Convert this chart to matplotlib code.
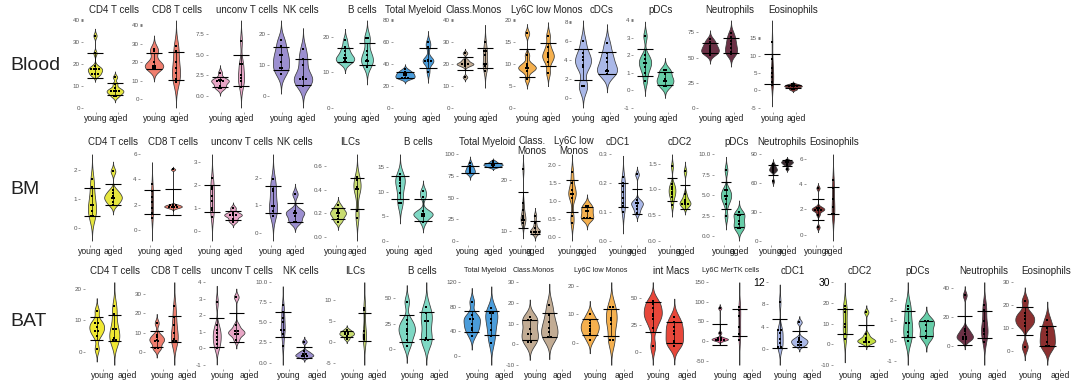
import numpy as np
import matplotlib
matplotlib.use("Agg")
import matplotlib.pyplot as plt

plt.rcParams['font.family'] = ['Liberation Sans', 'DejaVu Sans']

groups = ["young", "aged"]

# ---- Blood ----
blood_titles = ["CD4 T cells", "CD8 T cells", "unconv T cells", "NK cells", "B cells",
                "Total Myeloid", "Class.Monos", "Ly6C low Monos", "cDCs", "pDCs",
                "Neutrophils", "Eosinophils"]
blood_young = [
    [33, 25, 19, 18, 18, 17, 17, 16, 15, 15],
    [27, 26, 20, 18, 18, 17, 17],
    [2.8, 2.0, 1.9, 1.8, 1.8, 1.6, 1.2, 1.0, 0.9],
    [18, 16, 13, 13, 11, 9, 9, 7],
    [19, 17, 16, 15, 14, 14, 13.5, 13, 13],
    [35, 33, 32, 31, 30, 29, 28, 27, 27],
    [25, 22, 21, 20, 20, 20, 19, 14],
    [17, 12, 10, 9.5, 9, 9, 8.5, 6.5],
    [6, 4.8, 4.3, 4, 3.5, 3.3, 1.3, 1.2],
    [3.1, 2.0, 1.8, 1.6, 1.5, 1.3, 1.0, 0.5],
    [68, 65, 62, 60, 58, 56, 55, 53],
    [14, 9, 6.3, 5, 3.8, 2.5, 1.5],
]
blood_aged = [
    [14, 11, 9, 8, 8, 7, 7, 6, 5],
    [29, 26, 20, 17, 14, 11, 9],
    [6.7, 3.8, 3.8, 2.5, 2.2, 1.8, 1.0],
    [15, 12, 10, 6, 5.5, 5.5, 5, 3],
    [19.7, 19.5, 16, 14.8, 13.5, 13.2, 13, 11.5],
    [60, 56, 44, 43, 43, 42, 33],
    [30, 26, 26, 24, 20, 20, 19, 17],
    [16.5, 14, 12.5, 12, 11.5, 10.5, 8],
    [5.8, 4.8, 4.2, 3.8, 3.0, 2.9, 2.8, 2.6],
    [1.2, 1.1, 0.9, 0.65, 0.6, 0.5, 0.3, 0.2],
    [74, 70, 66, 63, 60, 56, 55, 54],
    [1.8, 1.6, 1.4, 1.2, 1.1, 1.0, 0.5, 0.2],
]
blood_ticks = [[0, 10, 20, 30, 40], [0, 10, 20, 30, 40], [0.0, 2.5, 5.0, 7.5], [0, 10, 20],
               [0, 10, 20], [0, 20, 40, 60, 80], [0, 10, 20, 30, 40], [0, 5, 10, 15, 20],
               [0, 2, 4, 6, 8], [-1, 0, 1, 2, 3, 4], [0, 25, 50, 75], [-5, 0, 5, 10, 15]]
blood_colors = ["#E6E63E", "#F07E6E", "#E8A6C6", "#9C8FD0", "#7ED8C4", "#4A9CDA", "#C2AC94",
                "#F5B04E", "#AAB8E8", "#66CDA8", "#6B3045", "#7A2E2E"]
blood_marked = ["CD4 T cells", "CD8 T cells", "Total Myeloid", "Class.Monos",
                "Ly6C low Monos", "cDCs", "pDCs", "Eosinophils"]

# ---- BM ----
bm_titles = ["CD4 T cells", "CD8 T cells", "unconv T cells", "NK cells", "ILCs", "B cells",
             "Total Myeloid", "Class.\nMonos", "Ly6C low\nMonos", "cDC1", "cDC2", "pDCs",
             "Neutrophils", "Eosinophils"]
bm_young = [
    [1.7, 1.4, 1.1, 0.8, 0.8, 0.6, 0.4, 0.4],
    [3.6, 3.1, 2.6, 2.2, 1.75, 1.3, 0.9],
    [2.3, 1.9, 1.8, 1.5, 1.3, 1.0, 0.9, 0.6],
    [1.95, 1.6, 1.5, 1.0, 0.95, 0.8, 0.6],
    [0.27, 0.24, 0.22, 0.2, 0.2, 0.18, 0.15, 0.13],
    [13.6, 12.9, 12.5, 11.8, 11.1, 9.7, 7.8, 7.6],
    [90, 86, 84, 82, 80, 79, 78],
    [22, 15.5, 14, 13, 12.5, 12.2, 12, 11.5],
    [1.8, 1.5, 1.3, 1.2, 1.2, 1.1, 0.6, 0.4],
    [0.22, 0.2, 0.19, 0.17, 0.15, 0.13, 0.12, 0.1],
    [1.45, 1.1, 1.05, 1.0, 0.95, 0.9, 0.85, 0.7],
    [8.1, 5.7, 5.5, 5.0, 4.8, 4.5, 3.9, 2.4],
    [80, 78, 76, 75, 74, 73, 72, 62],
    [3.7, 2.2, 2.1, 2.0, 2.0, 1.9, 1.6, 0.6],
]
bm_aged = [
    [1.95, 1.3, 1.2, 1.1, 1.05, 1.0, 0.9, 0.8],
    [4.8, 2.0, 1.95, 1.9, 1.85, 1.8, 1.8, 1.7],
    [1.0, 0.8, 0.7, 0.7, 0.65, 0.5, 0.4],
    [1.4, 0.8, 0.75, 0.7, 0.6, 0.4, 0.4],
    [0.51, 0.48, 0.42, 0.41, 0.4, 0.22, 0.16],
    [10.2, 9.0, 6.0, 5.6, 5.5, 5.2, 5.0, 3.8],
    [92, 90, 89, 88, 88, 87, 86, 85],
    [13, 11.5, 10.5, 10, 10, 9.8, 9.6],
    [0.9, 0.85, 0.75, 0.7, 0.55, 0.55, 0.5],
    [0.23, 0.14, 0.13, 0.13, 0.12, 0.11, 0.095],
    [1.35, 0.9, 0.8, 0.75, 0.72, 0.7, 0.7],
    [2.9, 2.6, 2.5, 1.8, 1.5, 1.0, 0.9],
    [84, 83, 82, 82, 81, 80, 79, 75],
    [4.3, 3.7, 2.8, 2.2, 1.7, 1.6],
]
bm_ticks = [[0, 1, 2], [0, 2, 4, 6], [0, 1, 2, 3], [0, 1, 2], [0.0, 0.2, 0.4, 0.6],
            [0, 5, 10, 15], [0, 25, 50, 75, 100], [10, 20], [0.0, 0.5, 1.0, 1.5, 2.0],
            [0.0, 0.1, 0.2, 0.3], [0.0, 0.5, 1.0, 1.5], [0.0, 2.5, 5.0, 7.5, 10.0],
            [0, 30, 60, 90], [0, 2, 4, 6]]
bm_colors = ["#E6E63E", "#F07E6E", "#E8A6C6", "#9C8FD0", "#C8DC70", "#7ED8C4", "#4A9CDA",
             "#C2AC94", "#F5B04E", "#AAB8E8", "#C4E040", "#66CDA8", "#3A2A30", "#7A2E2E"]

# ---- BAT ----
bat_titles = ["CD4 T cells", "CD8 T cells", "unconv T cells", "NK cells", "ILCs", "B cells",
              "Total Myeloid", "Class.Monos", "Ly6C low Monos", "int Macs", "Ly6C MerTK cells",
              "cDC1", "cDC2", "pDCs", "Neutrophils", "Eosinophils"]
bat_young = [
    [13, 9.5, 9, 8, 7, 6.5, 5, 1],
    [15, 9, 8, 6.5, 6, 5.5, 2.5, 2],
    [2.8, 1.4, 1.1, 0.9, 0.7, 0.5, 0.25, 0],
    [7.1, 6.3, 5.5, 5.0, 4.2, 4.0, 3.6, 2.1],
    [3.0, 2.5, 2.3, 2.0, 1.8, 1.5, 0.8],
    [46, 28, 25, 20, 18, 15, 9, 3],
    [88, 66, 61, 60, 52, 46, 43, 33],
    [13, 12, 11.5, 7.5, 5, 4.5, 1, 1],
    [10, 8, 7, 6, 5, 4, 3, 1],
    [47, 44, 40, 35, 33, 30, 22, 5],
    [84, 21, 8, 6, 5, 4, 3, 2],
    [8.4, 3.5, 3.2, 2.8, 1.8, 1.0, 0.5, 0.3],
    [18.5, 17, 15.5, 10, 8.5, 5, 2.5],
    [1.7, 1.55, 0.9, 0.85, 0.45, 0.22, 0.0],
    [35, 12, 10, 8, 7, 6, 5, 4],
    [21.8, 16.5, 15, 13.7, 12, 10.8, 1.7],
]
bat_aged = [
    [14.5, 12, 7.5, 7, 4.5, 4, 3.5],
    [23.5, 18, 14, 10, 7, 6, 6],
    [3.1, 1.4, 1.1, 1.0, 0.9, 0.85, 0.5],
    [2.6, 1.4, 1.2, 1.0, 0.9, 0.8, 0.7],
    [8, 7.7, 2.6, 1.7, 1.2, 0.85],
    [41, 35, 28, 27, 11, 9, 9],
    [78, 70, 69, 60, 54, 43, 33, 21],
    [19, 14, 10.5, 8, 6, 3.5, 3],
    [12.5, 12.5, 8.5, 8, 6.5, 1, 1],
    [32, 27, 23, 19, 16, 10, 8, 5],
    [86, 80, 63, 35, 19, 3],
    [4.8, 2.0, 1.6, 1.4, 1.2, 0.8, 0.6],
    [15.5, 4.8, 2.8, 2.0, 1.5, 1.2, 0.9],
    [1.0, 0.95, 0.8, 0.5, 0.25, 0.15],
    [28, 25, 17, 12, 10, 8.5, 3],
    [13.5, 10, 8, 6.6, 3.8, 2, 1.7],
]
bat_ticks = [[0, 10, 20], [0, 10, 20, 30], [-1, 0, 1, 2, 3, 4], [0.0, 2.5, 5.0, 7.5, 10.0],
             [-5, 0, 5, 10], [0, 25, 50], [0, 40, 80, 120], [-10, 0, 10, 20, 30], [0, 10, 20],
             [0, 25, 50], [-50, 0, 50, 100, 150], [0, 4, 8, 12], [-10, 0, 10, 20, 30],
             [-1, 0, 1, 2], [0, 20, 40], [0, 10, 20, 30]]
bat_colors = ["#F0E832", "#F07E6E", "#E8A6C6", "#9C8FD0", "#C8DC70", "#7ED8C4", "#4A9CDA",
              "#C2AC94", "#F5B04E", "#E8473A", "#E06494", "#AAB8E8", "#C4E040", "#66CDA8",
              "#6B3045", "#8C2F2F"]
bat_small_titles = ["Total Myeloid", "Class.Monos", "Ly6C low Monos", "Ly6C MerTK cells"]
bat_big_top = ["cDC1", "cDC2"]

# ---- layout (pixels) ----
W, H = 1080, 389
blood_xpos = [(95, 115), (154, 176), (220, 241), (281, 303), (345, 367), (405, 428),
              (465, 485), (527, 548), (583, 607), (645, 665), (710, 731), (772, 793)]
blood_tx = [114, 177, 247, 301, 362, 413, 474, 547, 602, 661, 730, 793]
bm_xpos = [(92, 113), (152, 173), (212, 233), (273, 295), (338, 357), (400, 423), (470, 493),
           (523, 535), (572, 587), (623, 637), (672, 685), (726, 739), (773, 787), (818, 833)]
bm_tx = [113, 173, 242, 295, 350, 418, 487, 532, 574, 618, 680, 737, 782, 834]
bat_xpos = [(97, 115), (157, 175), (217, 237), (283, 305), (347, 365), (407, 427), (472, 492),
            (530, 550), (590, 612), (653, 675), (720, 740), (780, 800), (845, 867), (908, 927),
            (965, 985), (1025, 1048)]
bat_tx = [115, 176, 242, 301, 355, 422, 485, 534, 601, 671, 731, 793, 860, 918, 984, 1046]

fig = plt.figure(figsize=(W / 100, H / 100), dpi=100)


def kde(vals):
    # gaussian kernel, bw.nrd0 rule, tails extended by 3 bandwidths (untrimmed violin)
    v = np.asarray(vals, float)
    n = len(v)
    sd = v.std(ddof=1)
    iqr = np.subtract(*np.percentile(v, [75, 25]))
    lo = min(sd, iqr / 1.34) if iqr > 0 else sd
    bw = 0.9 * lo * n ** -0.2
    grid = np.linspace(v.min() - 3 * bw, v.max() + 3 * bw, 256)
    dens = np.exp(-0.5 * ((grid[:, None] - v[None, :]) / bw) ** 2).sum(1) / (n * bw * np.sqrt(2 * np.pi))
    return grid, dens


def stack(vals, pos, binw, dx):
    # dot-plot style: values in one bin sit side by side
    v = np.sort(np.asarray(vals, float))
    xs, ys = [], []
    i = 0
    while i < len(v):
        j = i
        while j + 1 < len(v) and v[j + 1] - v[i] < binw:
            j += 1
        k = j - i + 1
        yc = v[i:j + 1].mean()
        for o in (np.arange(k) - (k - 1) / 2) * dx:
            xs.append(pos + o)
            ys.append(yc)
        i = j + 1
    return xs, ys


def fmt(t, ticks):
    if all(float(x).is_integer() for x in ticks):
        return "%d" % t
    return "%.1f" % t


def draw_row(top, bot, title_y, titles, young, aged, ticks, colors, xpos, tx, lab_off,
             small=(), marked=(), big_top=()):
    for i, title in enumerate(titles):
        xy, xa = xpos[i]
        d = xa - xy
        left, right = xy - 12, xa + 12
        ax = fig.add_axes([left / W, 1 - bot / H, (right - left) / W, (bot - top) / H])
        ax.patch.set_alpha(0)
        ax.set_xlim(1 - 12 / d, 2 + 12 / d)
        sets = [young[i], aged[i]]
        curves = [kde(v) for v in sets]
        dmax = max(c[1].max() for c in curves)
        lo = min(min(c[0].min() for c in curves), ticks[i][0])
        hi = max(max(c[0].max() for c in curves), ticks[i][-1])
        span = hi - lo
        ax.set_ylim(lo - 0.05 * span, hi + 0.05 * span)
        allv = np.concatenate([np.asarray(s, float) for s in sets])
        binw = (allv.max() - allv.min()) / 25
        for j, (vals, (g, dens)) in enumerate(zip(sets, curves)):
            pos = j + 1
            w = 0.42 * dens / dmax
            ax.fill_betweenx(g, pos - w, pos + w, facecolor=colors[i], edgecolor='#3a3a3a',
                             linewidth=0.55, zorder=1)
            m, s = np.mean(vals), np.std(vals, ddof=1)
            ax.vlines(pos, m - s, m + s, color='black', lw=0.5, zorder=2)
            ax.hlines([m - s, m + s], pos - 0.38, pos + 0.38, color='black', lw=0.8, zorder=2)
            xs, ys = stack(vals, pos, binw, 2.8 / d)
            ax.scatter(xs, ys, s=4.5, marker='s', color='black', linewidths=0, zorder=3)

        ax.set_yticks(ticks[i])
        ax.set_yticklabels([fmt(t, ticks[i]) for t in ticks[i]])
        ax.set_xticks([1 + lab_off[0] / d, 2 + lab_off[1] / d])
        ax.set_xticklabels(groups)
        ax.tick_params(axis='y', length=1.5, width=0.5, color='#777777', labelsize=4.5,
                       labelcolor='#555555', pad=0.8)
        ax.tick_params(axis='x', length=1.2, width=0.5, color='#777777', labelsize=6.2,
                       labelcolor='#222222', pad=0.5)
        for sp in ax.spines.values():
            sp.set_visible(False)
        if title in marked:
            tk = ax.yaxis.get_major_ticks()[-1]
            tk.tick1line.set_color('black')
            tk.tick1line.set_markeredgewidth(2.0)
        if title in big_top:
            lab = ax.get_yticklabels()[-1]
            lab.set_fontsize(7.5)
            lab.set_color('black')

        nlines = title.count("\n") + 1
        fs = 5.2 if title in small else 7
        fig.text(tx[i] / W, 1 - (title_y + 4 * (nlines - 1)) / H, title, ha='center',
                 va='center', fontsize=fs, color='#222222', linespacing=0.95)


draw_row(16, 112, 10, blood_titles, blood_young, blood_aged, blood_ticks, blood_colors,
         blood_xpos, blood_tx, (1, 3), marked=blood_marked)
draw_row(150, 245, 142, bm_titles, bm_young, bm_aged, bm_ticks, bm_colors,
         bm_xpos, bm_tx, (-2, 0))
draw_row(278, 369, 271, bat_titles, bat_young, bat_aged, bat_ticks, bat_colors,
         bat_xpos, bat_tx, (6, 13), small=bat_small_titles, big_top=bat_big_top)

for name, y in [("Blood", 65), ("BM", 190), ("BAT", 322)]:
    fig.text(10 / W, 1 - y / H, name, ha='left', va='center', fontsize=14, color='#222222')

fig.savefig("out.png", dpi=100, facecolor='white')
